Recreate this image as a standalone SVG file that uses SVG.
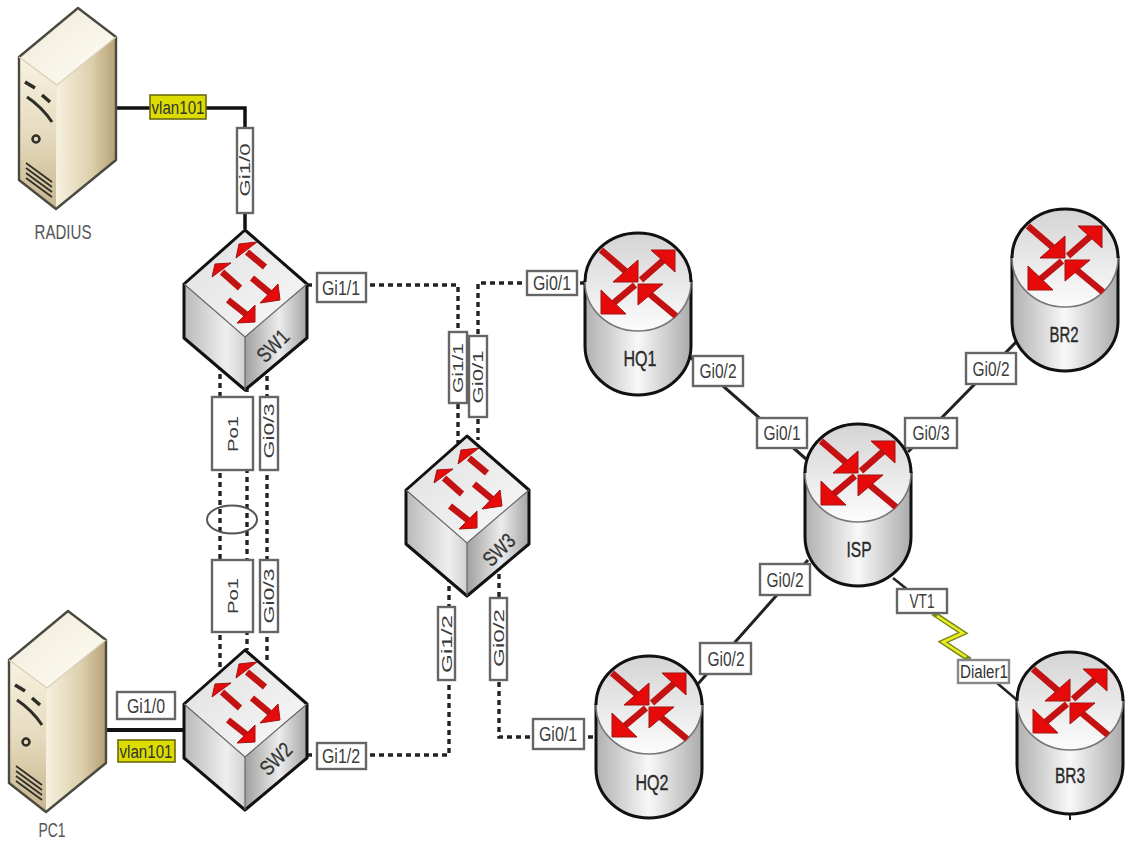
<svg xmlns="http://www.w3.org/2000/svg" width="1126" height="841" viewBox="0 0 1126 841">
<style>
text{font-family:"Liberation Sans",Arial,sans-serif;fill:#3c3c3c;text-anchor:middle}
.lb{fill:#fff;stroke:#666;stroke-width:2.4}
.ly{fill:#dcdc00;stroke:#6a6a10;stroke-width:1.6}
.lt{font-size:20px}
.lv{font-size:15px}
.ln{font-size:18px;fill:#333}
.solid{fill:none;stroke:#111;stroke-width:3.5}
.thin{fill:none;stroke:#222;stroke-width:3}
.dash{fill:none;stroke:#222;stroke-width:3.4;stroke-dasharray:5 4}
.name{font-size:21px;fill:#555}
.rname{font-size:22px;fill:#2a2a2a;stroke:#2a2a2a;stroke-width:.4}
.sname{font-size:21px;fill:#333;stroke:#333;stroke-width:.3}
.ra{fill:#e60a0a;stroke:#a01414;stroke-width:1}
.rs{stroke:#c41212;stroke-width:6.5;fill:none}
</style>
<defs>
<linearGradient id="svL" x1="0" y1="0" x2="0" y2="1"><stop offset="0" stop-color="#f8f2e0"/><stop offset=".5" stop-color="#e6dbbf"/><stop offset="1" stop-color="#c6b58c"/></linearGradient>
<linearGradient id="svR" x1="0" y1="0" x2="1" y2="0"><stop offset="0" stop-color="#f7f1df"/><stop offset=".6" stop-color="#dccfab"/><stop offset="1" stop-color="#b5a075"/></linearGradient>
<linearGradient id="svT" x1="0" y1="0" x2="1" y2="1"><stop offset="0" stop-color="#efe9d8"/><stop offset="1" stop-color="#fffdf5"/></linearGradient>
<linearGradient id="swL" x1="0" y1="0" x2="1" y2="0"><stop offset="0" stop-color="#b9b9b9"/><stop offset=".7" stop-color="#efefef"/><stop offset="1" stop-color="#d0d0d0"/></linearGradient>
<linearGradient id="swR" x1="0" y1="0" x2="1" y2="0"><stop offset="0" stop-color="#a0a0a0"/><stop offset=".55" stop-color="#ececec"/><stop offset="1" stop-color="#a4a4a4"/></linearGradient>
<linearGradient id="swT" x1="0" y1="0" x2="1" y2="1"><stop offset="0" stop-color="#dedede"/><stop offset="1" stop-color="#fafafa"/></linearGradient>
<linearGradient id="rB" x1="0" y1="0" x2="1" y2="0"><stop offset="0" stop-color="#b0b0b0"/><stop offset=".5" stop-color="#f8f8f8"/><stop offset="1" stop-color="#ababab"/></linearGradient>
<linearGradient id="rT" x1="0" y1="0" x2="0" y2="1"><stop offset="0" stop-color="#d4d4d4"/><stop offset="1" stop-color="#fcfcfc"/></linearGradient>
<g id="server">
<polygon points="78,8 116,37 57,85 19,57" fill="url(#svT)"/>
<polygon points="19,57 57,85 56,209 19,180" fill="url(#svL)"/>
<polygon points="57,85 116,37 116,160 56,209" fill="url(#svR)"/>
<polygon points="78,8 116,37 116,160 56,209 19,180 19,57" fill="none" stroke="#4a4a40" stroke-width="2.4" stroke-linejoin="round"/>
<path d="M19,57L57,85L116,37" fill="none" stroke="#d8cfb5" stroke-width="1.2"/>
<g fill="none" stroke="#2e2e28">
<path d="M25,82L35,88M42,95L50,102" stroke-width="3.6"/>
<path d="M27,97Q42,107 52,122" stroke-width="3"/>
<circle cx="36" cy="139" r="3.5" stroke-width="2.5"/>
<path d="M26,163L52,182M26,168L52,187M26,173L52,192M26,178L52,197" stroke-width="1.7"/>
</g>
</g>
<g id="switch">
<polygon points="245,230 307,284 245,337 184,284" fill="url(#swT)"/>
<polygon points="184,284 245,337 245,390 184,338" fill="url(#swL)"/>
<polygon points="245,337 307,284 307,338 245,390" fill="url(#swR)"/>
<polygon points="245,230 307,284 307,338 245,390 184,338 184,284" fill="none" stroke="#111" stroke-width="3" stroke-linejoin="round"/>
<path d="M184,284L245,337L307,284M245,337V390" fill="none" stroke="#666" stroke-width="1.2"/>
<path class="rs" d="M265,267L247,252M240,288L222,272M252,278L270,293M228,300L247,315"/>
<path class="ra" d="M236,258L239,244L257,242ZM212,277L215,264L231,263ZM260,303L280,300L278,284ZM237,323L255,322L255,305Z"/>
</g>
<g id="router">
<path d="M-53,0V64A53,49 0 0 0 53,64V0Z" fill="url(#rB)" stroke="#111" stroke-width="3"/>
<ellipse cx="0" cy="0" rx="53" ry="49" fill="url(#rT)" stroke="#777" stroke-width="1.6"/>
<path d="M-53,0A53,49 0 0 1 53,0" fill="none" stroke="#111" stroke-width="3"/>
<path class="rs" d="M-37,-32L-8,-7M3,-2L28,-24M-3,3L-28,24M38,34L8,9"/>
<path class="ra" d="M0,0L-25,0L0,-22ZM37,-32L13,-32L37,-10ZM-37,32L-12,32L-37,8ZM0,2L25,2L0,23Z"/>
</g>
</defs>
<rect width="1126" height="841" fill="#fff"/>
<g id="connectors">
<path class="solid" d="M116,108H245V229"/>
<path class="solid" d="M105,730H184" style="stroke-width:4"/>
<path class="dash" d="M307,285H458V443"/>
<path class="dash" d="M585,283H478V440"/>
<path class="dash" d="M220,365V668M247,378V650M267,367V662"/>
<ellipse cx="232" cy="519.5" rx="25" ry="14" fill="none" stroke="#555" stroke-width="2"/>
<path class="dash" d="M307,755H449V578"/>
<path class="dash" d="M499,565V737H595"/>
<path class="thin" d="M690,357L806,459"/>
<path class="thin" d="M908,452L1018,340"/>
<path class="thin" d="M808,560L697,685"/>
<path class="thin" d="M893,578L908,590M997,683L1017,700" style="stroke-width:2.5"/>
<path d="M933,613L963,633L943,642L970,660" fill="none" stroke="#7a8a20" stroke-width="5.5"/>
<path d="M937,616L963,633L943,642L966,657" fill="none" stroke="#ecec20" stroke-width="2.6"/>
<path d="M1070,813V820" stroke="#222" stroke-width="2"/>
</g>
<g id="port-labels">
<rect class="ly" x="150" y="95" width="56" height="24"/><text class="ln" x="178" y="114" textLength="53" lengthAdjust="spacingAndGlyphs">vlan101</text>
<rect class="lb" x="237" y="128" width="16" height="85"/><text class="lv" transform="translate(250,170) rotate(-90)" textLength="53" lengthAdjust="spacingAndGlyphs">Gi1/0</text>
<rect class="lb" x="317" y="273" width="49" height="29"/><text class="lt" x="341" y="295" textLength="38" lengthAdjust="spacingAndGlyphs">Gi1/1</text>
<rect class="lb" x="212" y="397" width="41" height="73"/><text class="lv" transform="translate(238,434) rotate(-90)" textLength="36" lengthAdjust="spacingAndGlyphs">Po1</text>
<rect class="lb" x="260" y="397" width="18" height="73"/><text class="lv" transform="translate(274,431) rotate(-90)" textLength="55" lengthAdjust="spacingAndGlyphs">Gi0/3</text>
<rect class="lb" x="212" y="560" width="41" height="72"/><text class="lv" transform="translate(238,596) rotate(-90)" textLength="36" lengthAdjust="spacingAndGlyphs">Po1</text>
<rect class="lb" x="260" y="560" width="18" height="72"/><text class="lv" transform="translate(274,596) rotate(-90)" textLength="55" lengthAdjust="spacingAndGlyphs">Gi0/3</text>
<rect class="lb" x="117" y="692" width="58" height="27"/><text class="lt" x="146" y="713" textLength="38" lengthAdjust="spacingAndGlyphs">Gi1/0</text>
<rect class="ly" x="118" y="740" width="57" height="22"/><text class="ln" x="146" y="758" textLength="53" lengthAdjust="spacingAndGlyphs">vlan101</text>
<rect class="lb" x="317" y="743" width="49" height="26"/><text class="lt" x="341" y="763" textLength="38" lengthAdjust="spacingAndGlyphs">Gi1/2</text>
<rect class="lb" x="449" y="332" width="18" height="71"/><text class="lv" transform="translate(463,368) rotate(-90)" textLength="50" lengthAdjust="spacingAndGlyphs">Gi1/1</text>
<rect class="lb" x="469" y="336" width="18" height="81"/><text class="lv" transform="translate(483,377) rotate(-90)" textLength="53" lengthAdjust="spacingAndGlyphs">Gi0/1</text>
<rect class="lb" x="527" y="271" width="50" height="24"/><text class="lt" x="552" y="290" textLength="38" lengthAdjust="spacingAndGlyphs">Gi0/1</text>
<rect class="lb" x="438" y="607" width="17" height="73"/><text class="lv" transform="translate(452,644) rotate(-90)" textLength="58" lengthAdjust="spacingAndGlyphs">Gi1/2</text>
<rect class="lb" x="490" y="598" width="17" height="82"/><text class="lv" transform="translate(504,638) rotate(-90)" textLength="58" lengthAdjust="spacingAndGlyphs">Gi0/2</text>
<rect class="lb" x="533" y="719" width="51" height="30"/><text class="lt" x="558" y="741" textLength="38" lengthAdjust="spacingAndGlyphs">Gi0/1</text>
<rect class="lb" x="693" y="356" width="50" height="30"/><text class="lt" x="718" y="378" textLength="37" lengthAdjust="spacingAndGlyphs">Gi0/2</text>
<rect class="lb" x="757" y="418" width="50" height="30"/><text class="lt" x="782" y="440" textLength="37" lengthAdjust="spacingAndGlyphs">Gi0/1</text>
<rect class="lb" x="905" y="418" width="52" height="30"/><text class="lt" x="931" y="440" textLength="37" lengthAdjust="spacingAndGlyphs">Gi0/3</text>
<rect class="lb" x="966" y="353" width="50" height="31"/><text class="lt" x="991" y="376" textLength="37" lengthAdjust="spacingAndGlyphs">Gi0/2</text>
<rect class="lb" x="760" y="564" width="50" height="31"/><text class="lt" x="785" y="587" textLength="37" lengthAdjust="spacingAndGlyphs">Gi0/2</text>
<rect class="lb" x="700" y="643" width="51" height="31"/><text class="lt" x="726" y="666" textLength="37" lengthAdjust="spacingAndGlyphs">Gi0/2</text>
<rect class="lb" x="897" y="589" width="50" height="24"/><text class="lt" x="922" y="608" textLength="25" lengthAdjust="spacingAndGlyphs">VT1</text>
<rect class="lb" x="958" y="660" width="51" height="23" style="stroke:#888"/><text class="ln" x="984" y="678" textLength="48" lengthAdjust="spacingAndGlyphs">Dialer1</text>
</g>
<g id="RADIUS"><use href="#server"/><text class="name" x="63" y="239" textLength="57" lengthAdjust="spacingAndGlyphs">RADIUS</text></g>
<g id="PC1"><use href="#server" transform="translate(-10,603)"/><text class="name" x="52" y="837" textLength="27" lengthAdjust="spacingAndGlyphs">PC1</text></g>
<g id="SW1"><use href="#switch"/><text class="sname" transform="translate(278,351) rotate(-45)" textLength="36" lengthAdjust="spacingAndGlyphs">SW1</text></g>
<g id="SW2"><use href="#switch" transform="translate(0,420)"/><text class="sname" transform="translate(281,764) rotate(-45)" textLength="36" lengthAdjust="spacingAndGlyphs">SW2</text></g>
<g id="SW3"><use href="#switch" transform="translate(222,206)"/><text class="sname" transform="translate(504,555) rotate(-45)" textLength="36" lengthAdjust="spacingAndGlyphs">SW3</text></g>
<g id="HQ1"><use href="#router" transform="translate(638,282)"/><text class="rname" x="640" y="366" textLength="33" lengthAdjust="spacingAndGlyphs">HQ1</text></g>
<g id="ISP"><use href="#router" transform="translate(858,473)"/><text class="rname" x="859" y="557" textLength="25" lengthAdjust="spacingAndGlyphs">ISP</text></g>
<g id="BR2"><use href="#router" transform="translate(1065,258)"/><text class="rname" x="1064" y="342" textLength="29" lengthAdjust="spacingAndGlyphs">BR2</text></g>
<g id="HQ2"><use href="#router" transform="translate(649,705)"/><text class="rname" x="652" y="790" textLength="33" lengthAdjust="spacingAndGlyphs">HQ2</text></g>
<g id="BR3"><use href="#router" transform="translate(1070,701)"/><text class="rname" x="1070" y="783" textLength="30" lengthAdjust="spacingAndGlyphs">BR3</text></g>
</svg>
